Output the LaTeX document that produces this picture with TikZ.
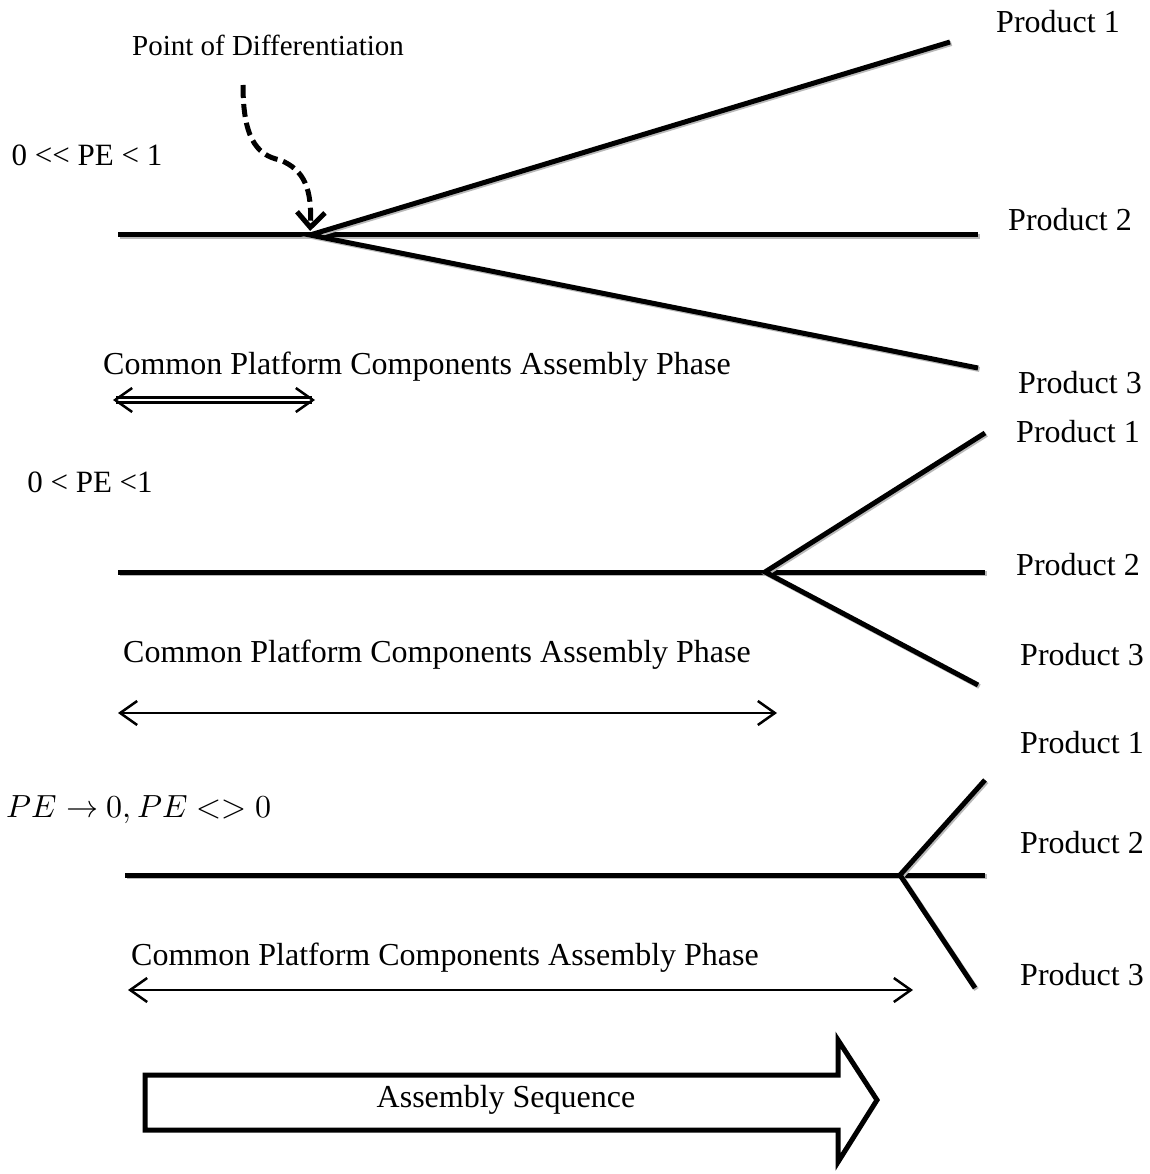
\documentclass[tikz,border=0pt]{standalone}
\usepackage{fontspec}
\usepackage{unicode-math}
\setmainfont{Liberation Serif}
\setmathfont{Latin Modern Math}
\usetikzlibrary{arrows.meta}
\begin{document}
\begin{tikzpicture}[x=1pt, y=-1pt, line join=miter, branch/.style={line width=5pt, preaction={draw=gray!55, line width=5pt, transform canvas={shift={(1.5pt,-1.5pt)}}}},barb/.tip={Straight Barb[length=17pt,width=24pt,line width=2.5pt]},phase/.style={line width=2.2pt, barb-barb}]
\useasboundingbox (0,0) rectangle (1149,1174);
\begin{scope}[every node/.style={font=\fontsize{32}{38}\selectfont, inner sep=0pt}]
\node (pod) at (268,45) {\fontsize{29}{35}\selectfont Point of Differentiation};
\node (pe1) at (87,155) {\fontsize{31}{37}\selectfont 0 <\kern0pt< PE < 1};
\node (pe2) at (90,482) {\fontsize{31}{37}\selectfont 0 < PE <1};
\node (pe3) at (139,810) {$PE \rightarrow 0, PE <> 0$};
\node (ph1) at (417,367) {Common Platform Components Assembly Phase};
\node (ph2) at (437,655) {Common Platform Components Assembly Phase};
\node (ph3) at (445,958) {Common Platform Components Assembly Phase};
\node (p11) at (1058,22) {Product 1};
\node (p12) at (1070,220) {Product 2};
\node (p13) at (1080,383) {Product 3};
\node (p21) at (1078,432) {Product 1};
\node (p22) at (1078,565) {Product 2};
\node (p23) at (1082,655) {Product 3};
\node (p31) at (1082,743) {Product 1};
\node (p32) at (1082,843) {Product 2};
\node (p33) at (1082,975) {Product 3};
\node (seq) at (506,1100) {Assembly Sequence};
%\node (x) at (,) {};
\end{scope}
\coordinate (a1) at (118,235); \coordinate (s1) at (310,235); \coordinate (e1) at (978,235);
\coordinate (b11) at (950,42); \coordinate (b13) at (978,368);
\coordinate (a2) at (118,572); \coordinate (s2) at (765,572); \coordinate (e2) at (985,572);
\coordinate (b21) at (985,433); \coordinate (b23) at (978,685);
\coordinate (a3) at (125,875); \coordinate (s3) at (900,875); \coordinate (e3) at (985,875);
\coordinate (b31) at (985,780); \coordinate (b33) at (975,988);
\begin{scope}
\draw[branch] (a1) -- (e1);
\draw[branch] (b11) -- (s1) -- (b13);
\draw[branch] (a2) -- (e2);
\draw[branch] (b21) -- (s2) -- (b23);
\draw[branch] (a3) -- (e3);
\draw[branch] (b31) -- (s3) -- (b33);
% point of differentiation
\draw[line width=5pt, dash pattern=on 13pt off 6pt, -{Straight Barb[length=15pt,width=28pt,line width=5pt]}, shorten >=4pt] (243,85) .. controls (243,135) and (255,155) .. (280,160) .. controls (305,170) and (312,190) .. (s1);
% phases
\draw[line width=3pt, double, double distance=1.2pt, barb-barb] (113,400) -- (315,400);
\draw[phase] (118,713) -- (777,713);
\draw[phase] (128,990) -- (913,990);
% sequence arrow
\draw[line width=5pt] (145,1075) -- (838,1075) -- (838,1040) -- (877,1100) -- (838,1162) -- (838,1130) -- (145,1130) -- cycle;
\end{scope}
\end{tikzpicture}
\end{document}
